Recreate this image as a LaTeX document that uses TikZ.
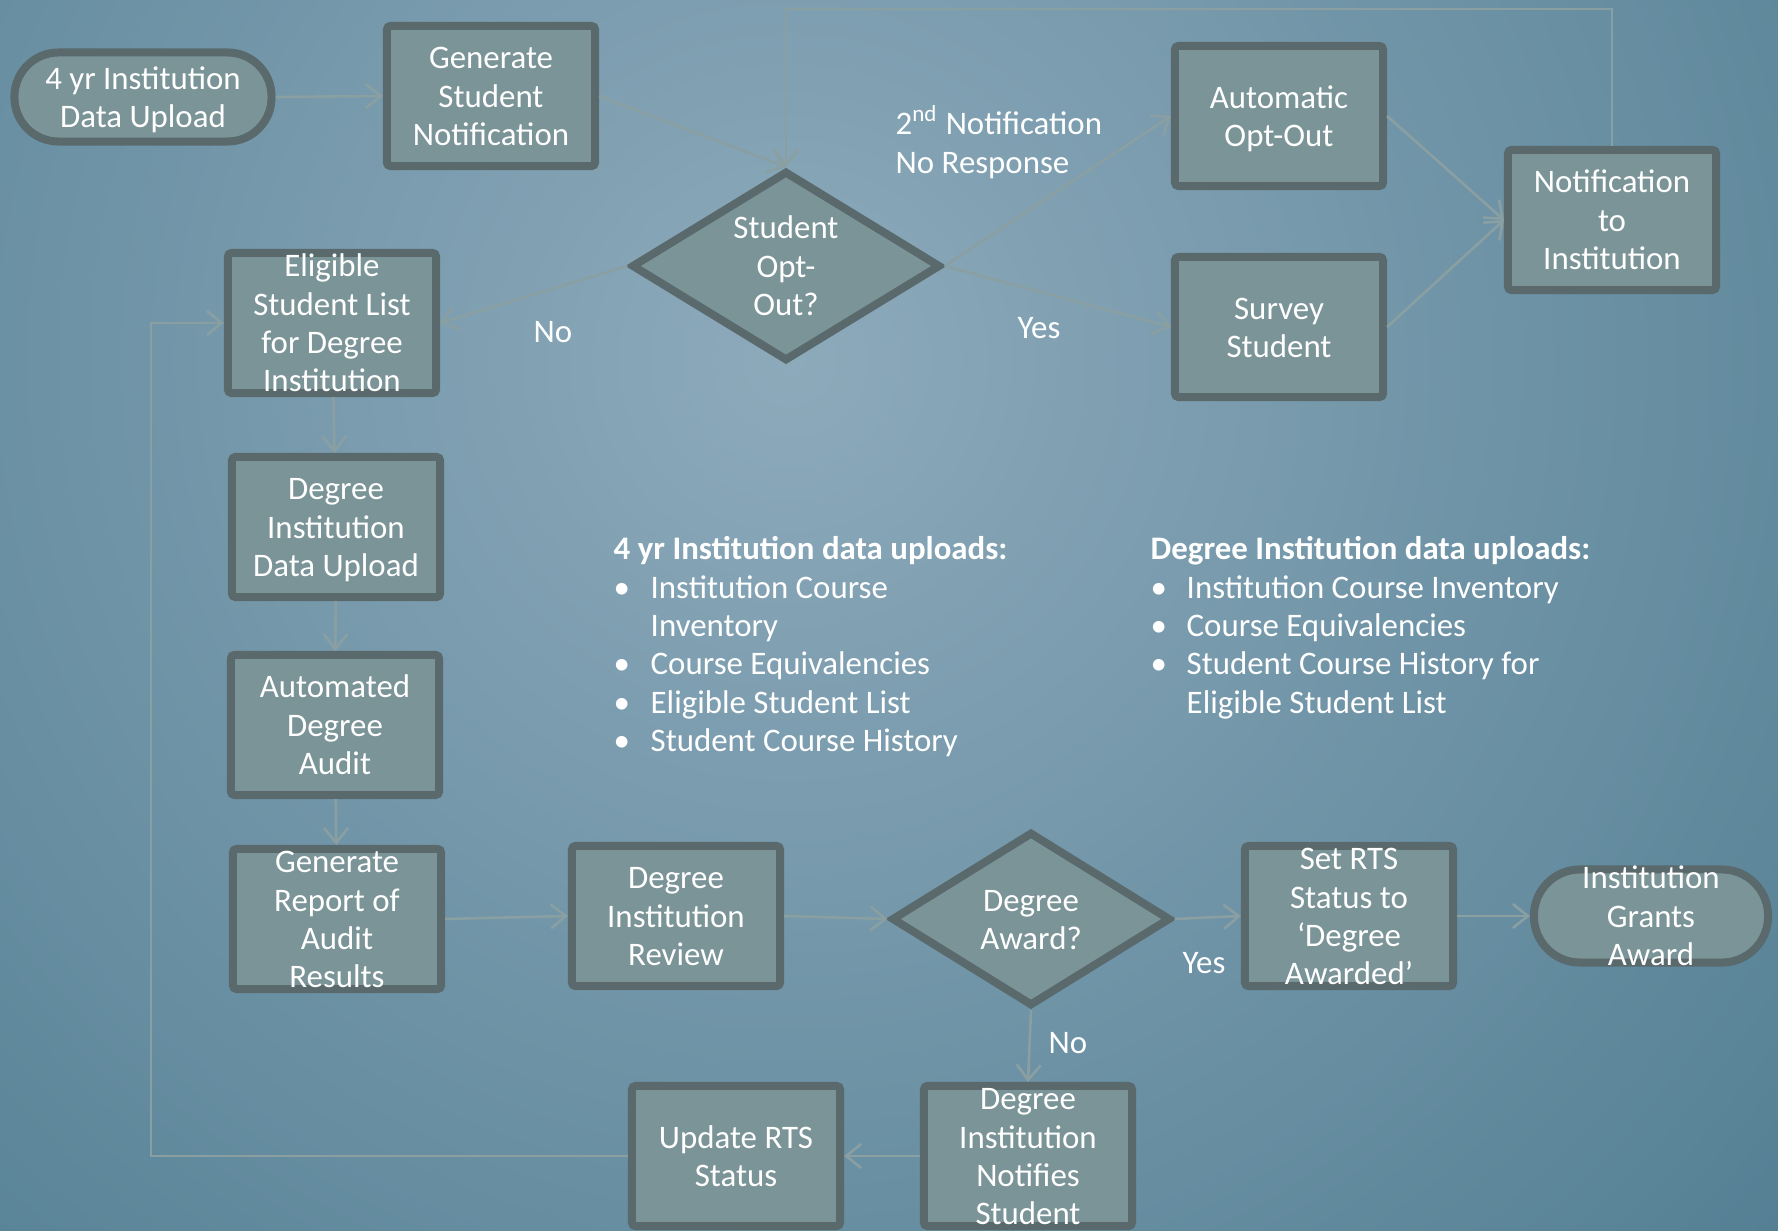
\documentclass[tikz,border=0pt]{standalone}
\usepackage{fontspec}
\setmainfont{Carlito}
\usetikzlibrary{shapes.geometric,arrows.meta}

\definecolor{bglight}{HTML}{8DAABB}
\definecolor{bgdark}{HTML}{46758A}
\definecolor{boxfill}{HTML}{7B9497}
\definecolor{boxline}{HTML}{59696C}
\definecolor{linkcol}{HTML}{8A9FA2}

% several centred lines that do not make the box grow
\newcommand{\ml}[1]{\smash{\raisebox{-0.35em}{\begin{tabular}{@{}c@{}}#1\end{tabular}}}}

\tikzset{
  procbox/.style={rectangle, draw=boxline, fill=boxfill, line width=0.08cm, rounded corners=1pt,
    minimum width=2.08cm, minimum height=1.40cm, inner sep=0pt, text=white},
  endbox/.style={procbox, rounded corners=0.44cm, minimum width=2.57cm, minimum height=0.89cm},
  decision/.style={diamond, draw=boxline, fill=boxfill, line width=0.08cm, inner sep=0pt, text=white},
  link/.style={draw=linkcol, line width=0.026cm, -{Straight Barb[length=0.15cm,width=0.24cm]}},
  lbl/.style={text=white, inner sep=0pt}
}

\begin{document}
\begin{tikzpicture}[x=0.01cm, y=-0.01cm, font=\fontsize{9.35}{10.9}\selectfont]
    \useasboundingbox (0,0) rectangle (1778,1231);

    % Background
    \begin{scope}
        \clip (0,0) rectangle (1778,1231);
        \shade[inner color=bglight, outer color=bgdark] (790,360) circle (16.5cm);
    \end{scope}

    % Top row: upload, notification, opt-out decision
    \node[endbox] (start) at (143,97) {\ml{4 yr Institution\\Data Upload}};
    \node[procbox] (gen) at (491,96) {\ml{Generate\\Student\\Notification}};
    \node[decision, minimum width=3.09cm, minimum height=1.90cm] (optout) at (786,266) {\ml{Student\\Opt-\\Out?}};
    \node[procbox] (auto) at (1279,116) {\ml{Automatic\\Opt-Out}};
    \node[procbox] (survey) at (1279,327) {\ml{Survey\\Student}};
    \node[procbox] (notif) at (1612,220) {\ml{Notification\\to\\Institution}};

    % Left column
    \node[procbox] (elig) at (332,323) {\ml{Eligible\\Student List\\for Degree\\Institution}};
    \node[procbox] (dupload) at (336,527) {\ml{Degree\\Institution\\Data Upload}};
    \node[procbox] (audit) at (335,725) {\ml{Automated\\Degree\\Audit}};
    \node[procbox] (report) at (337,919) {\ml{Generate\\Report of\\Audit\\Results}};

    % Bottom rows
    \node[procbox] (review) at (676,916) {\ml{Degree\\Institution\\Review}};
    \node[decision, minimum width=2.79cm, minimum height=1.74cm] (award) at (1031,919) {\ml{Degree\\Award?}};
    \node[procbox] (setrts) at (1349,916) {\ml{Set RTS\\Status to\\‘Degree\\Awarded’}};
    \node[endbox, minimum width=2.34cm, minimum height=0.93cm, rounded corners=0.46cm] (grants) at (1651,916) {\ml{Institution\\Grants\\Award}};
    \node[procbox] (notifies) at (1028,1156) {\ml{Degree\\Institution\\Notifies\\Student}};
    \node[procbox] (update) at (736,1156) {\ml{Update RTS\\Status}};

    % Branch labels
    \node[lbl, anchor=west, align=left] (second) at (895,142) {2\textsuperscript{nd} Notification\\No Response};
    \node[lbl] (no1) at (553,332) {No};
    \node[lbl] (yes1) at (1039,328) {Yes};
    \node[lbl] (yes2) at (1204,963) {Yes};
    \node[lbl] (no2) at (1068,1043) {No};

    % Data upload lists
    \node[lbl, anchor=base west] (list4yr) at (613,560) {\begin{tabular}[t]{@{}p{0.37cm}@{}l@{}}
        \multicolumn{2}{@{}l@{}}{\textbf{4 yr Institution data uploads:}}\\
        \textbullet & Institution Course\\
        & Inventory\\
        \textbullet & Course Equivalencies\\
        \textbullet & Eligible Student List\\
        \textbullet & Student Course History
    \end{tabular}};
    \node[lbl, anchor=base west] (listdeg) at (1150,560) {\begin{tabular}[t]{@{}p{0.36cm}@{}l@{}}
        \multicolumn{2}{@{}l@{}}{\textbf{Degree Institution data uploads:}}\\
        \textbullet & Institution Course Inventory\\
        \textbullet & Course Equivalencies\\
        \textbullet & Student Course History for\\
        & Eligible Student List
    \end{tabular}};

    % Connectors
    \coordinate (top) at (786,9);
    \coordinate (back) at (151,323);
    \draw[link] (start.east) -- (gen.west);
    \draw[link] (gen.east) -- (optout.north);
    \draw[link] (notif.north) |- (top) -- (optout.north);
    \draw[link] (optout.west) -- (elig.east);
    \draw[link] (optout.east) -- (auto.west);
    \draw[link] (optout.east) -- (survey.west);
    \draw[link] (auto.east) -- (notif.west);
    \draw[link] (survey.east) -- (notif.west);
    \draw[link] (elig) -- (dupload);
    \draw[link] (dupload) -- (audit);
    \draw[link] (audit) -- (report);
    \draw[link] (report.east) -- (review.west);
    \draw[link] (review.east) -- (award.west);
    \draw[link] (award.east) -- (setrts.west);
    \draw[link] (setrts.east) -- (grants.west);
    \draw[link] (award.south) -- (notifies.north);
    \draw[link] (notifies.west) -- (update.east);
    \draw[link] (update.west) -| (back) -- (elig.west);

\end{tikzpicture}
\end{document}
